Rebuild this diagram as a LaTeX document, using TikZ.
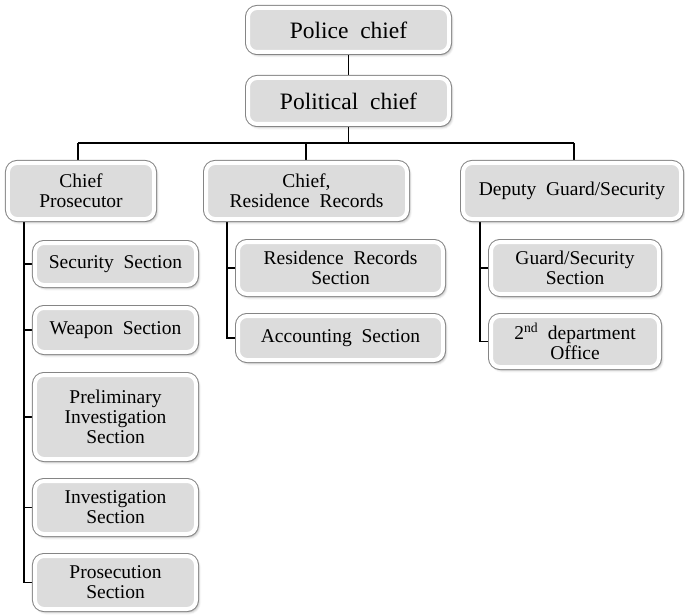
\documentclass[tikz,border=0pt]{standalone}
\usepackage{fontspec}
\setmainfont{Liberation Serif}
\usetikzlibrary{shadows.blur}
\pgfdeclarelayer{bg}
\pgfsetlayers{bg,main}
\definecolor{boxfill}{HTML}{DCDCDC}
\definecolor{boxline}{HTML}{858585}
\newcommand\bigfnt{\fontsize{23.5bp}{25bp}\selectfont\spaceskip=0.5em\relax}
\newcommand\smallfnt{\fontsize{19.5bp}{19.8bp}\selectfont\spaceskip=0.5em\relax}
\tikzset{
  orgbox/.style={rectangle, rounded corners=9bp,
    blur shadow={shadow xshift=2bp, shadow yshift=-2.5bp, shadow opacity=45, shadow blur radius=3bp},
    preaction={draw=boxline, line width=6bp},
    fill=boxfill, draw=white, line width=4bp,
    inner sep=0pt, align=center, text=black, font=\smallfnt},
  link/.style={draw=black, line width=1.4bp},
}
\begin{document}
\begin{tikzpicture}[x=1bp,y=-1bp]
\useasboundingbox (0,0) rectangle (685,615);
% boxes: minimum size = outer size - 6
\node[orgbox, font=\bigfnt, minimum width=201bp, minimum height=44bp] (police) at (348.5,30) {Police chief};
\node[orgbox, font=\bigfnt, minimum width=201bp, minimum height=46bp] (political) at (348.5,101) {Political chief};
\node[orgbox, minimum width=146bp, minimum height=56bp] (prosec) at (81,191) {Chief\\Prosecutor};
\node[orgbox, minimum width=201bp, minimum height=56bp] (rchief) at (306.5,191) {Chief,\\Residence Records};
\node[orgbox, minimum width=218bp, minimum height=56bp] (deputy) at (572,191) {Deputy Guard/Security};
\node[orgbox, minimum width=161bp, minimum height=42bp] (security) at (115.5,264) {Security Section};
\node[orgbox, minimum width=161bp, minimum height=44bp] (weapon) at (115.5,330) {Weapon Section};
\node[orgbox, minimum width=161bp, minimum height=84bp] (prelim) at (115.5,417) {Preliminary\\Investigation\\Section};
\node[orgbox, minimum width=161bp, minimum height=53bp] (invest) at (115.5,507.5) {Investigation\\Section};
\node[orgbox, minimum width=161bp, minimum height=53bp] (prosection) at (115.5,582.5) {Prosecution\\Section};
\node[orgbox, minimum width=205bp, minimum height=52bp] (rrsection) at (340.5,268) {Residence Records\\Section};
\node[orgbox, minimum width=205bp, minimum height=44bp] (account) at (340.5,338) {Accounting Section};
\node[orgbox, minimum width=168bp, minimum height=52bp] (guard) at (575,268) {Guard/Security\\Section};
\node[orgbox, minimum width=168bp, minimum height=51bp] (second) at (575,341.5) {2\textsuperscript{nd} department\\Office};
% connector points
\coordinate (bus) at (348.5,143);
\coordinate (ptop) at (78,143);
\coordinate (rtop) at (306,143);
\coordinate (dtop) at (574,143);
\coordinate (pleft) at (24,215);
\coordinate (rleft) at (227,215);
\coordinate (dleft) at (480,215);
\begin{pgfonlayer}{bg}
\draw[link] (police) -- (political);
\draw[link] (political) -- (bus);
\draw[link] (ptop) -- (dtop);
\draw[link] (ptop) -- (ptop |- prosec.center);
\draw[link] (rtop) -- (rtop |- rchief.center);
\draw[link] (dtop) -- (dtop |- deputy.center);
\draw[link] (pleft) |- (security.west);
\draw[link] (pleft) |- (weapon.west);
\draw[link] (pleft) |- (prelim.west);
\draw[link] (pleft) |- (invest.west);
\draw[link] (pleft) |- (prosection.west);
\draw[link] (rleft) |- (rrsection.west);
\draw[link] (rleft) |- (account.west);
\draw[link] (dleft) |- (guard.west);
\draw[link] (dleft) |- (second.west);
\end{pgfonlayer}
\end{tikzpicture}
\end{document}
